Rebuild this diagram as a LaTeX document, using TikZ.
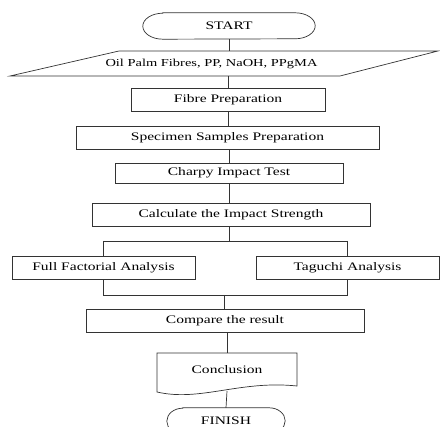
\documentclass[tikz,border=0pt]{standalone}
\usepackage{fontspec}
\setmainfont{Liberation Serif}[FakeStretch=1.35]
\begin{document}
\begin{tikzpicture}[x=1pt,y=-1pt,
  ln/.style={draw=black!80, line width=0.7pt},
  box/.style={ln, rectangle, inner sep=0pt, font=\fontsize{11.5}{13}\selectfont},
  plain/.style={rectangle, inner sep=0pt, font=\fontsize{11.5}{13}\selectfont}]
\useasboundingbox (0,0) rectangle (440,427);
% START
\node[plain, minimum width=172pt, minimum height=26pt] (start) at (229,26) {START};
\draw[ln] ([xshift=20pt]start.north west) -- ([xshift=-20pt]start.north east)
  arc[start angle=90, end angle=-90, x radius=20pt, y radius=13pt]
  -- ([xshift=20pt]start.south west)
  arc[start angle=270, end angle=90, x radius=20pt, y radius=13pt] -- cycle;
% input
\node[plain, minimum width=220pt, minimum height=25pt, font=\fontsize{10.7}{12}\selectfont] (inp) at (211.5,63.5) {Oil Palm Fibres, PP, NaOH, PPgMA};
\draw[ln] (119,51) -- (438,51) -- (340,76) -- (10,76) -- cycle;
% boxes
\node[box, minimum width=194pt, minimum height=23pt] (fib) at (228,99.5) {Fibre Preparation};
\node[box, minimum width=303pt, minimum height=23pt] (spec) at (227.5,137.5) {Specimen Samples Preparation};
\node[box, minimum width=228pt, minimum height=20pt] (charpy) at (229,173) {Charpy Impact Test};
\node[box, minimum width=278pt, minimum height=23pt] (calc) at (231,214.5) {Calculate the Impact Strength};
\node[box, minimum width=183pt, minimum height=23pt] (ff) at (103.5,267.5) {Full Factorial Analysis};
\node[box, minimum width=183pt, minimum height=23pt] (tg) at (347.5,267.5) {Taguchi Analysis};
\node[box, minimum width=278pt, minimum height=23pt] (cmp) at (225,320.5) {Compare the result};
% conclusion
\node[plain, minimum width=140pt, minimum height=34pt] (concl) at (227,370) {Conclusion};
\draw[ln] (157,353) -- (297,353) -- (297,386) .. controls (240,380) and (200,402) .. (157,392) -- cycle;
\coordinate (cb) at (227,391);
% FINISH
\node[plain, minimum width=118pt, minimum height=26pt] (fin) at (226,421) {FINISH};
\draw[ln] ([xshift=16pt]fin.north west) -- ([xshift=-16pt]fin.north east)
  arc[start angle=90, end angle=-90, x radius=16pt, y radius=13pt]
  -- ([xshift=16pt]fin.south west)
  arc[start angle=270, end angle=90, x radius=16pt, y radius=13pt] -- cycle;
% connectors
\draw[ln] (start.south) -- (start.south |- inp.north);
\draw[ln] (fib.north |- inp.south) -- (fib.north);
\draw[ln] (fib.south) -- (fib.south |- spec.north);
\draw[ln] (spec.south -| charpy.north) -- (charpy.north);
\draw[ln] (charpy.south) -- (charpy.south |- calc.north);
\coordinate (s1) at (229,241);
\coordinate (j1) at (224,295);
\draw[ln] (calc.south -| s1) -- (s1);
\draw[ln] (ff.north |- s1) -- (tg.north |- s1);
\draw[ln] (ff.north |- s1) -- (ff.north);
\draw[ln] (tg.north |- s1) -- (tg.north);
\draw[ln] (ff.south) -- (ff.south |- j1) -- (tg.south |- j1) -- (tg.south);
\draw[ln] (j1) -- (j1 |- cmp.north);
\draw[ln] (concl.north |- cmp.south) -- (concl.north);
\draw[ln] (cb) -- (fin.north);
\end{tikzpicture}
\end{document}
